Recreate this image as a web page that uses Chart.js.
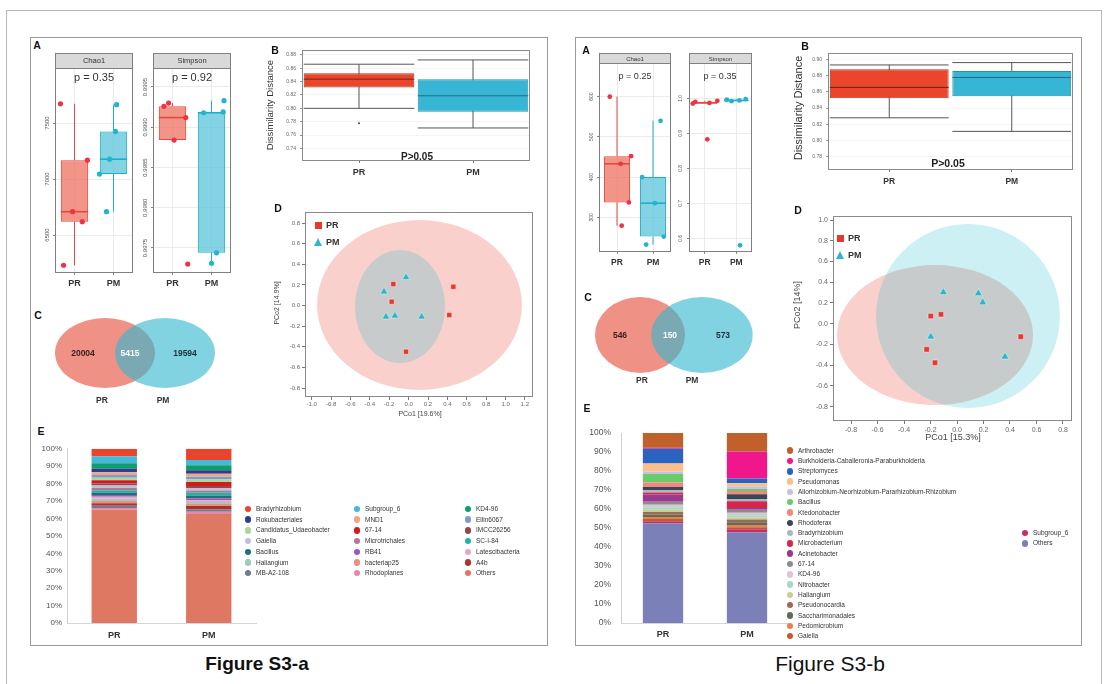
<!DOCTYPE html>
<html>
<head>
<meta charset="utf-8">
<script src="https://cdn.jsdelivr.net/npm/chart.js@4.4.1/dist/chart.umd.min.js"></script>
<style>
  body { margin: 0; background: #fff; font-family: "Liberation Sans", Arial, sans-serif; }
  #page { position: relative; width: 1107px; height: 684px; overflow: hidden; background: #fff; }
  canvas { position: absolute; }
</style>
</head>
<body>
<div id="page"></div>
<script>
// ================= data =================
const GROUPS = ['PR', 'PM'];

// Figure S3-a : alpha diversity, five samples per group
const chao1A_PR = [7672, 7168, 6708, 6619, 6230];
const chao1A_PM = [7664, 7425, 7177, 7044, 6708];
const simpsonA_PR = [0.99930, 0.99926, 0.99912, 0.99884, 0.99730];
const simpsonA_PM = [0.99933, 0.99919, 0.99918, 0.99744, 0.99731];
const chao1A_ticks = [6500, 7000, 7500];
const simpsonA_ticks = [0.9975, 0.9980, 0.9985, 0.9990, 0.9995];
const alphaA_p = ['p = 0.35', 'p = 0.92'];

// Figure S3-b : alpha diversity
const chao1B_PR = [600, 452, 433, 337, 279];
const chao1B_PM = [540, 400, 335, 252, 232];
const simpsonB_PR = [0.993, 0.990, 0.987, 0.985, 0.883];
const simpsonB_PM = [0.998, 0.996, 0.994, 0.992, 0.580];
const chao1B_ticks = [300, 400, 500, 600];
const simpsonB_ticks = [0.6, 0.7, 0.8, 0.9, 1.0];
const alphaB_p = ['p = 0.25', 'p = 0.35'];

// horizontal jitter of the sample dots (in group units)
const jitChao1A = [[-0.36, 0.33, -0.05, 0.20, -0.28], [0.08, 0.05, -0.10, -0.36, -0.18]];
const jitSimpsonA = [[-0.10, -0.22, 0.34, 0.04, 0.39], [0.32, 0.30, -0.20, 0.13, 0.00]];
const jitChao1B = [[-0.20, 0.39, 0.10, 0.33, 0.13], [0.21, -0.30, 0.05, 0.30, -0.19]];
const jitSimpsonB = [[0.40, -0.30, 0.15, -0.38, 0.08], [0.30, -0.30, 0.10, -0.15, 0.12]];

// Dissimilarity distance : [lower whisker, Q1, median, Q3, upper whisker]
const distA_PR = [0.8000, 0.8312, 0.8437, 0.8527, 0.8661];
const distA_PM = [0.7706, 0.7950, 0.8188, 0.8437, 0.8725];
const distA_out = [[0.7775], []];
const distA_ticks = [0.74, 0.76, 0.78, 0.80, 0.82, 0.84, 0.86, 0.88];
const distB_PR = [0.8280, 0.8520, 0.8654, 0.8878, 0.8930];
const distB_PM = [0.8113, 0.8544, 0.8776, 0.8857, 0.8959];
const distB_out = [[], []];
const distB_ticks = [0.78, 0.80, 0.82, 0.84, 0.86, 0.88, 0.90];

// Venn counts : [PR only, shared, PM only]
const vennA = [20004, 5415, 19594];
const vennB = [546, 150, 573];

// PCoA coordinates [PCo1, PCo2]
const pcoaA_PR = [[-0.158, 0.208], [-0.175, 0.037], [0.461, 0.182], [0.419, -0.092], [-0.027, -0.448]];
const pcoaA_PM = [[-0.027, 0.273], [-0.254, 0.134], [-0.234, -0.109], [-0.141, -0.099], [0.134, -0.109]];
const pcoaB_PR = [[-0.198, 0.074], [-0.121, 0.091], [-0.229, -0.247], [-0.166, -0.376], [0.481, -0.125]];
const pcoaB_PM = [[-0.103, 0.303], [0.161, 0.293], [0.194, 0.206], [-0.198, -0.125], [0.362, -0.318]];
const pcoaA_xticks = [-1.0, -0.8, -0.6, -0.4, -0.2, 0, 0.2, 0.4, 0.6, 0.8, 1.0, 1.2];
const pcoaA_yticks = [-0.8, -0.6, -0.4, -0.2, 0, 0.2, 0.4, 0.6, 0.8];
const pcoaB_xticks = [-0.8, -0.6, -0.4, -0.2, 0, 0.2, 0.4, 0.6, 0.8];
const pcoaB_yticks = [-0.8, -0.6, -0.4, -0.2, 0, 0.2, 0.4, 0.6, 0.8, 1.0];
// confidence ellipses [centre PCo1, centre PCo2, radius PCo1, radius PCo2]
const ellA_PR = [0.112, 0.005, 1.057, 0.824];
const ellA_PM = [-0.089, -0.010, 0.464, 0.548];
const ellB_PR = [-0.166, -0.109, 0.740, 0.675];
const ellB_PM = [0.083, 0.074, 0.694, 0.887];

// Relative abundance (%), listed from the top of each bar downwards
const taxaA = ['Bradyrhizobium', 'Subgroup_6', 'KD4-96', 'Rokubacteriales', 'MND1', 'Ellin6067',
  'Candidatus_Udaeobacter', '67-14', 'IMCC26256', 'Gaiella', 'Microtrichales', 'SC-I-84', 'Bacillus',
  'RB41', 'Latescibacteria', 'Haliangium', 'bacteriap25', 'A4b', 'MB-A2-108', 'Rhodoplanes', 'Others'];
const taxaA_PR = [4.3, 4.0, 3.0, 2.2, 1.6, 1.5, 1.5, 1.8, 1.2, 1.4, 1.3, 1.3, 1.4, 1.0, 1.2, 1.3, 1.2, 1.5, 1.3, 1.0, 65.0];
const taxaA_PM = [6.5, 3.0, 2.8, 2.0, 1.7, 1.6, 1.4, 2.3, 1.2, 1.5, 1.3, 1.5, 1.6, 1.1, 1.0, 1.2, 1.2, 1.9, 1.4, 1.2, 62.6];
const taxaB = ['Arthrobacter', 'Burkholderia-Caballeronia-Paraburkholderia', 'Streptomyces', 'Pseudomonas',
  'Allorhizobium-Neorhizobium-Pararhizobium-Rhizobium', 'Bacillus', 'Ktedonobacter', 'Rhodoferax',
  'Bradyrhizobium', 'Microbacterium', 'Acinetobacter', '67-14', 'KD4-96', 'Nitrobacter', 'Haliangium',
  'Pseudonocardia', 'Saccharimonadales', 'Pedomicrobium', 'Gaiella', 'Subgroup_6', 'Others'];
const taxaB_PR = [7.7, 0.5, 7.8, 4.2, 1.4, 4.4, 2.4, 1.5, 1.4, 1.0, 3.8, 1.6, 1.4, 1.3, 1.2, 1.2, 1.4, 1.0, 1.2, 1.1, 52.5];
const taxaB_PM = [9.7, 14.2, 2.5, 1.6, 1.5, 1.0, 1.7, 2.5, 1.2, 3.5, 1.0, 1.5, 1.3, 1.2, 1.1, 1.5, 1.4, 1.2, 1.0, 1.7, 47.7];
const pctTicks = [0, 10, 20, 30, 40, 50, 60, 70, 80, 90, 100];

// ================= styles =================
const colorsA = ['#E8452C', '#46B8DA', '#0E9E6E', '#2C3E8C', '#F4A582', '#7C9CCB', '#A8D8A0', '#D7191C',
  '#8C4A4A', '#C4BEDD', '#B07A94', '#1FB5A2', '#1F6F78', '#9B59B6', '#E7A6C8', '#A3C9BE', '#E8907A',
  '#B03030', '#6D7B8D', '#E888A8', '#DF7862'];
const colorsB = ['#C0602A', '#F0168C', '#2A64C0', '#FDBF8A', '#C7C0DF', '#6ACB6A', '#F2877F', '#3A4656',
  '#A9B7C6', '#D6264B', '#9A3A8F', '#8C8C8C', '#DCC6D6', '#A6D9C4', '#C9CF8F', '#9C6A55', '#5D6E55',
  '#E9814E', '#C25A2E', '#C42E69', '#7C80B8'];

const FONT = '"Liberation Sans", Arial, sans-serif';
Chart.defaults.font.family = FONT;
Chart.defaults.color = '#555';
Chart.defaults.plugins.legend.display = false;
Chart.defaults.plugins.tooltip.enabled = false;

const page = document.getElementById('page');
const mctx = document.createElement('canvas').getContext('2d');
function textW(s, size) { mctx.font = size + 'px ' + FONT; return mctx.measureText(s).width; }

function mk(tag, css) { const d = document.createElement(tag); Object.assign(d.style, css); page.appendChild(d); return d; }
function label(s, x, y, size, o = {}) {
  const d = mk('div', {
    position: 'absolute', left: x + 'px', top: y + 'px', fontSize: size + 'px',
    fontWeight: o.bold ? 'bold' : 'normal', color: o.color || '#222', whiteSpace: 'nowrap',
    lineHeight: '1', zIndex: 5,
    transform: 'translate(' + (o.left ? '0' : '-50%') + ',-50%)' + (o.rot ? ' rotate(' + o.rot + 'deg)' : '')
  });
  d.textContent = s;
  return d;
}
function rect(l, t, w, h, css) {
  return mk('div', Object.assign({ position: 'absolute', left: l + 'px', top: t + 'px', width: w + 'px', height: h + 'px', boxSizing: 'border-box' }, css));
}

// panel frame around the plotting area
Chart.register({
  id: 'frame',
  afterDraw(chart, args, o) {
    if (!o || !o.color) return;
    const a = chart.chartArea, ctx = chart.ctx;
    ctx.save(); ctx.strokeStyle = o.color; ctx.lineWidth = 1;
    ctx.strokeRect(Math.round(a.left) + 0.5, Math.round(a.top) + 0.5, Math.round(a.width) - 1, Math.round(a.height) - 1);
    ctx.restore();
  }
});
// filled ellipses placed through the chart scales
Chart.register({
  id: 'ellipses',
  beforeDatasetsDraw(chart, args, o) {
    if (!o || !o.items) return;
    const xs = chart.scales.x, ys = chart.scales.y, ctx = chart.ctx, a = chart.chartArea;
    ctx.save();
    if (!o.noClip) { ctx.beginPath(); ctx.rect(a.left, a.top, a.width, a.height); ctx.clip(); }
    for (let i = 0; i < o.items.length; i++) {
      const e = o.items[i];
      const cx = xs.getPixelForValue(e.cx), cy = ys.getPixelForValue(e.cy);
      const rx = Math.abs(xs.getPixelForValue(e.cx + e.rx) - cx);
      const ry = Math.abs(ys.getPixelForValue(e.cy + e.ry) - cy);
      ctx.beginPath(); ctx.ellipse(cx, cy, rx, ry, 0, 0, Math.PI * 2);
      ctx.fillStyle = e.fill; ctx.fill();
    }
    ctx.restore();
  }
});

// place a chart so that its plotting area covers the rectangle `plot`
function mount(plot, yW, xH, pad, config) {
  const w = plot.r - plot.l + yW + pad * 2, h = plot.b - plot.t + xH + pad * 2;
  const c = document.createElement('canvas');
  c.width = w; c.height = h;
  c.style.left = (plot.l - yW - pad) + 'px'; c.style.top = (plot.t - pad) + 'px';
  c.style.width = w + 'px'; c.style.height = h + 'px';
  page.appendChild(c);
  const op = config.options;
  op.responsive = false; op.animation = false; op.devicePixelRatio = 1;
  op.layout = { padding: pad };
  op.scales.x.afterFit = s => { s.height = xH; };
  op.scales.y.afterFit = s => { s.width = yW; };
  return new Chart(c, config);
}

function boxStats(v) {
  const s = [...v].sort((a, b) => a - b);
  const q = p => { const h = (s.length - 1) * p, lo = Math.floor(h), hi = Math.min(lo + 1, s.length - 1); return s[lo] + (h - lo) * (s[hi] - s[lo]); };
  const q1 = q(0.25), med = q(0.5), q3 = q(0.75), iqr = q3 - q1;
  const inside = s.filter(x => x >= q1 - 1.5 * iqr && x <= q3 + 1.5 * iqr);
  return { lo: inside[0], q1, med, q3, hi: inside[inside.length - 1] };
}

const PR_LINE = '#E5483E', PM_LINE = '#1EAFC6';
const PR_FILL = 'rgba(240,118,104,0.78)', PM_FILL = 'rgba(96,198,220,0.78)';
const PR_DOT = '#EE3344', PM_DOT = '#22B4CC';

// one facet of the alpha-diversity box plots
function facet(plot, vals, jit, ticks, ymin, ymax, fmt, st) {
  const BW = st.bw;
  const stats = vals.map(boxStats);
  const lines = [PR_LINE, PM_LINE];
  const ds = [];
  stats.forEach((s, i) => ds.push({
    type: 'line', order: 4, borderColor: lines[i], borderWidth: 1, pointRadius: 0, spanGaps: false, fill: false,
    data: [{ x: i + 1, y: s.lo }, { x: i + 1, y: s.q1 }, { x: i + 1, y: null }, { x: i + 1, y: s.q3 }, { x: i + 1, y: s.hi }]
  }));
  ds.push({
    type: 'bar', order: 3, data: stats.map((s, i) => ({ x: i + 1, y: [s.q1, s.q3] })),
    backgroundColor: [PR_FILL, PM_FILL], borderColor: lines, borderWidth: 1, borderSkipped: false,
    categoryPercentage: 1, barPercentage: BW
  });
  stats.forEach((s, i) => ds.push({
    type: 'line', order: 2, borderColor: lines[i], borderWidth: 1.6, pointRadius: 0, fill: false,
    data: [{ x: i + 1 - BW / 2, y: s.med }, { x: i + 1 + BW / 2, y: s.med }]
  }));
  vals.forEach((v, i) => ds.push({
    type: 'scatter', order: 1, backgroundColor: [PR_DOT, PM_DOT][i], borderWidth: 0, pointRadius: st.r,
    data: v.map((y, j) => ({ x: i + 1 + jit[i][j], y }))
  }));
  const widest = Math.max(...ticks.map(v => textW(fmt(v), st.ts)));
  const grid = { color: '#e6e6e6', lineWidth: 0.8, tickLength: 2, tickColor: '#666', offset: false };
  return mount(plot, 16, 16, 6, {
    type: 'scatter',
    data: { datasets: ds },
    options: {
      scales: {
        x: {
          type: 'linear', min: 0.5, max: 2.5, offset: false,
          afterBuildTicks: s => { s.ticks = GROUPS.map((g, i) => ({ value: i + 1 })); },
          ticks: { callback: v => GROUPS[v - 1], font: { size: st.xs, weight: 'bold' }, color: '#333', padding: st.xPad, maxRotation: 0, autoSkip: false },
          grid, border: { display: false }
        },
        y: {
          type: 'linear', min: ymin, max: ymax,
          afterBuildTicks: s => { s.ticks = ticks.map(v => ({ value: v })); },
          ticks: { callback: v => fmt(v), font: { size: st.ts }, color: '#555', minRotation: 90, maxRotation: 90, crossAlign: 'center', padding: st.gap - 2 - widest / 2, autoSkip: false },
          grid, border: { display: false }
        }
      },
      plugins: { frame: { color: '#808080' } }
    }
  });
}

// dissimilarity box plot with whisker caps
function distBox(plot, stats, outs, ticks, ymin, ymax, st) {
  const BW = 0.97;
  const ds = [];
  stats.forEach((s, i) => {
    const [lo, , med, , hi] = s;
    ds.push({ type: 'line', order: 5, borderColor: '#555', borderWidth: 1, pointRadius: 0, data: [{ x: i + 1, y: lo }, { x: i + 1, y: hi }] });
    ds.push({ type: 'line', order: 4, borderColor: '#555', borderWidth: 1, pointRadius: 0, spanGaps: false,
      data: [{ x: i + 1 - BW / 2, y: lo }, { x: i + 1 + BW / 2, y: lo }, { x: i + 1, y: null }, { x: i + 1 - BW / 2, y: hi }, { x: i + 1 + BW / 2, y: hi }] });
    ds.push({ type: 'line', order: 2, borderColor: st.med[i], borderWidth: 1, pointRadius: 0, data: [{ x: i + 1 - BW / 2, y: med }, { x: i + 1 + BW / 2, y: med }] });
  });
  ds.push({ type: 'bar', order: 3, data: stats.map((s, i) => ({ x: i + 1, y: [s[1], s[3]] })),
    backgroundColor: ['#E9462B', '#36B5D5'], borderColor: ['#B7361F', '#2191AD'], borderWidth: 1, borderSkipped: false,
    categoryPercentage: 1, barPercentage: BW });
  ds.push({ type: 'scatter', order: 1, backgroundColor: '#444', borderWidth: 0, pointRadius: 1,
    data: outs.flatMap((o, i) => o.map(y => ({ x: i + 1, y }))) });
  return mount(plot, 30, 20, 6, {
    type: 'scatter',
    data: { datasets: ds },
    options: {
      scales: {
        x: {
          type: 'linear', min: 0.5, max: 2.5, offset: false,
          afterBuildTicks: s => { s.ticks = GROUPS.map((g, i) => ({ value: i + 1 })); },
          ticks: { callback: v => GROUPS[v - 1], font: { size: st.xs, weight: 'bold' }, color: '#333', padding: st.xPad, maxRotation: 0, autoSkip: false },
          grid: { display: true, drawOnChartArea: false, tickLength: 2, tickColor: '#777', offset: false }, border: { display: false }
        },
        y: {
          type: 'linear', min: ymin, max: ymax,
          afterBuildTicks: s => { s.ticks = ticks.map(v => ({ value: v })); },
          ticks: { callback: v => v.toFixed(2), font: { size: st.ts }, color: '#666', padding: st.yPad, autoSkip: false },
          grid: { color: '#f1f1f1', lineWidth: 0.8, tickLength: 2, tickColor: '#777' }, border: { display: false }
        }
      },
      plugins: { frame: { color: '#8a8a8a' } }
    }
  });
}

function ell(e, fill) { return { cx: e[0], cy: e[1], rx: e[2], ry: e[3], fill }; }

function pcoa(plot, pr, pm, ells, xr, yr, xt, yt, st) {
  return mount(plot, 24, 18, 8, {
    type: 'scatter',
    data: {
      datasets: [
        { data: pr.map(p => ({ x: p[0], y: p[1] })), pointStyle: 'rect', pointRadius: st.r, backgroundColor: '#E8372F', borderColor: 'rgba(255,255,255,0.7)', borderWidth: 0.6 },
        { data: pm.map(p => ({ x: p[0], y: p[1] })), pointStyle: 'triangle', pointRadius: st.r + 0.8, backgroundColor: '#2FB5CC', borderColor: 'rgba(255,255,255,0.7)', borderWidth: 0.6 }
      ]
    },
    options: {
      scales: {
        x: {
          type: 'linear', min: xr[0], max: xr[1],
          afterBuildTicks: s => { s.ticks = xt.map(v => ({ value: v })); },
          ticks: { callback: v => v.toFixed(1), font: { size: st.fs }, color: '#666', padding: st.xPad, maxRotation: 0, autoSkip: false },
          grid: { drawOnChartArea: false, tickLength: 3, tickColor: '#777' }, border: { display: false }
        },
        y: {
          type: 'linear', min: yr[0], max: yr[1],
          afterBuildTicks: s => { s.ticks = yt.map(v => ({ value: v })); },
          ticks: { callback: v => v.toFixed(1), font: { size: st.fs }, color: '#666', padding: st.yPad, autoSkip: false },
          grid: { drawOnChartArea: false, tickLength: 3, tickColor: '#777' }, border: { display: false }
        }
      },
      plugins: { frame: { color: '#8a8a8a' }, ellipses: { items: ells } }
    }
  });
}

function venn(plot, items) {
  return mount(plot, 0, 0, 0, {
    type: 'scatter',
    data: { datasets: [] },
    options: {
      scales: {
        x: { type: 'linear', min: 0, max: plot.r - plot.l, display: false },
        y: { type: 'linear', min: 0, max: plot.b - plot.t, display: false }
      },
      plugins: { ellipses: { items, noClip: true } }
    }
  });
}

function stack(plot, names, cols, pr, pm, st) {
  const ds = [];
  for (let k = names.length - 1; k >= 0; k--) {
    ds.push({ label: names[k], data: [pr[k], pm[k]], backgroundColor: cols[k], borderWidth: 0, categoryPercentage: 1, barPercentage: st.bw });
  }
  return mount(plot, 40, 22, 6, {
    type: 'bar',
    data: { labels: GROUPS, datasets: ds },
    options: {
      scales: {
        x: { stacked: true, grid: { display: false, drawTicks: false }, border: { display: true, color: '#d6d6d6' },
          ticks: { font: { size: st.xs, weight: 'bold' }, color: '#333', padding: st.xPad } },
        y: { stacked: true, min: 0, max: 100,
          afterBuildTicks: s => { s.ticks = pctTicks.map(v => ({ value: v })); },
          ticks: { callback: v => v + '%', font: { size: st.ys }, color: '#555', padding: st.yPad, autoSkip: false },
          grid: { display: false, drawTicks: false }, border: { display: true, color: '#d0d0d0' } }
      }
    }
  });
}

// ================= frames =================
rect(6, 10, 1096, 700, { border: '1px solid #b8b8b8' });
rect(30, 37, 518, 609, { border: '1px solid #9a9a9a' });
rect(575, 37, 507, 609, { border: '1px solid #9a9a9a' });

// ================= Figure S3-a =================
const fmt0 = v => String(v), fmt4 = v => v.toFixed(4), fmt1 = v => v.toFixed(1);
facet({ l: 55, t: 68, r: 133, b: 273 }, [chao1A_PR, chao1A_PM], jitChao1A, chao1A_ticks, 6161, 7991, fmt0,
  { bw: 0.7, r: 2.6, ts: 6, xs: 9, xPad: 3.5, gap: 8 });
facet({ l: 153, t: 68, r: 231, b: 273 }, [simpsonA_PR, simpsonA_PM], jitSimpsonA, simpsonA_ticks, 0.997189, 0.999736, fmt4,
  { bw: 0.7, r: 2.6, ts: 6, xs: 9, xPad: 3.5, gap: 8 });
distBox({ l: 302, t: 49, r: 530, b: 161 }, [distA_PR, distA_PM], distA_out, distA_ticks, 0.7211, 0.8874,
  { med: ['#7A2416', '#1D6E82'], ts: 5, xs: 9, xPad: 4, yPad: 4 });
venn({ l: 45, t: 313, r: 225, b: 393 }, [
  { cx: 60, cy: 40, rx: 50, ry: 35, fill: 'rgba(232,88,72,0.66)' },
  { cx: 120, cy: 40, rx: 50, ry: 35, fill: 'rgba(52,184,208,0.62)' }
]);
pcoa({ l: 305, t: 212, r: 533, b: 397 }, pcoaA_PR, pcoaA_PM,
  [ell(ellA_PR, 'rgba(240,110,100,0.32)'), ell(ellA_PM, 'rgba(0,180,200,0.2)')],
  [-1.069, 1.283], [-0.887, 0.907], pcoaA_xticks, pcoaA_yticks, { r: 3.6, fs: 6, xPad: 1, yPad: 2 });
stack({ l: 67, t: 445, r: 256, b: 623 }, taxaA, colorsA, taxaA_PR, taxaA_PM, { bw: 0.48, xs: 9, ys: 8, xPad: 7, yPad: 5 });

// ================= Figure S3-b =================
facet({ l: 599, t: 63, r: 671, b: 252 }, [chao1B_PR, chao1B_PM], jitChao1B, chao1B_ticks, 213.6, 683.8, fmt0,
  { bw: 0.72, r: 2.4, ts: 5, xs: 8.5, xPad: 3.5, gap: 7.6 });
facet({ l: 689, t: 63, r: 752, b: 252 }, [simpsonB_PR, simpsonB_PM], jitSimpsonB, simpsonB_ticks, 0.561, 1.101, fmt1,
  { bw: 0.78, r: 2.4, ts: 5, xs: 8.5, xPad: 3.5, gap: 8.3 });
distBox({ l: 828, t: 52, r: 1073, b: 170 }, [distB_PR, distB_PM], distB_out, distB_ticks, 0.7638, 0.9077,
  { med: ['#6E1F12', '#1D6E82'], ts: 5, xs: 8.5, xPad: 5, yPad: 4 });
venn({ l: 590, t: 293, r: 760, b: 377 }, [
  { cx: 50, cy: 42, rx: 45, ry: 38, fill: 'rgba(232,88,72,0.66)' },
  { cx: 112, cy: 42, rx: 50.7, ry: 38, fill: 'rgba(52,184,208,0.62)' }
]);
pcoa({ l: 833, t: 216, r: 1072, b: 421 }, pcoaB_PR, pcoaB_PM,
  [ell(ellB_PR, 'rgba(240,110,100,0.32)'), ell(ellB_PM, 'rgba(0,180,200,0.2)')],
  [-0.936, 0.868], [-0.938, 1.039], pcoaB_xticks, pcoaB_yticks, { r: 3.8, fs: 7, xPad: 2, yPad: 2 });
stack({ l: 621, t: 424, r: 789, b: 623 }, taxaB, colorsB, taxaB_PR, taxaB_PM, { bw: 0.48, xs: 9, ys: 8.5, xPad: 6, yPad: 10 });

// ================= text =================
// facet strips
function strip(l, t, w, h, s, size) {
  rect(l, t, w, h, { background: '#d9d9d9', border: '1px solid #808080', zIndex: 4 });
  label(s, l + w / 2, t + h / 2, size, { color: '#333' });
}
strip(55, 53, 78, 16, 'Chao1', 7.5);
strip(153, 53, 78, 16, 'Simpson', 7.5);
strip(599, 53, 72, 11, 'Chao1', 6);
strip(689, 53, 63, 11, 'Simpson', 6);
label(alphaA_p[0], 94, 77, 11, { color: '#333' });
label(alphaA_p[1], 192, 77, 11, { color: '#333' });
label(alphaB_p[0], 635, 76, 9, { color: '#333' });
label(alphaB_p[1], 720, 76, 9, { color: '#333' });

// panel letters
[['A', 37, 45], ['B', 275, 50], ['C', 38, 315], ['D', 278, 208], ['E', 41, 431],
 ['A', 586, 50], ['B', 805, 46], ['C', 588, 297], ['D', 798, 210], ['E', 587, 408]]
  .forEach(p => label(p[0], p[1], p[2], 10.5, { bold: true, color: '#111' }));

// dissimilarity panels
label('Dissimilarity Distance', 270, 105, 9.5, { rot: -90, color: '#333' });
label('P>0.05', 417, 157, 10, { bold: true, color: '#222' });
label('Dissimilarity Distance', 798, 108, 11, { rot: -90, color: '#333' });
label('P>0.05', 948, 163, 10.5, { bold: true, color: '#222' });

// Venn numbers and set names
label(String(vennA[0]), 83, 353, 8.5, { bold: true, color: '#3a1d1d' });
label(String(vennA[1]), 130, 353, 8.5, { bold: true, color: '#ffffff' });
label(String(vennA[2]), 185, 353, 8.5, { bold: true, color: '#1b2f3a' });
label('PR', 102, 400, 8.5, { bold: true, color: '#333' });
label('PM', 163, 400, 8.5, { bold: true, color: '#333' });
label(String(vennB[0]), 620, 335, 8.5, { bold: true, color: '#3a1d1d' });
label(String(vennB[1]), 670, 335, 8.5, { bold: true, color: '#ffffff' });
label(String(vennB[2]), 723, 335, 8.5, { bold: true, color: '#1b2f3a' });
label('PR', 642, 380, 8.5, { bold: true, color: '#333' });
label('PM', 692, 380, 8.5, { bold: true, color: '#333' });

// PCoA axis titles and legends
label('PCo1 [19.6%]', 420, 413, 7, { color: '#444' });
label('PCo2 [14.9%]', 276, 303, 7, { rot: -90, color: '#444' });
label('PCo1 [15.3%]', 953, 437, 9, { color: '#444' });
label('PCo2 [14%]', 797, 305, 9, { rot: -90, color: '#444' });
function pcoaKey(x, y, size) {
  rect(x - 3.5, y - 3.5, 7, 7, { background: '#E8372F', zIndex: 5 });
  label('PR', x + 8, y, size, { bold: true, left: true, color: '#333' });
  mk('div', { position: 'absolute', left: (x - 4.5) + 'px', top: (y + 13) + 'px', width: 0, height: 0,
    borderLeft: '4.5px solid transparent', borderRight: '4.5px solid transparent', borderBottom: '8px solid #2FB5CC', zIndex: 5 });
  label('PM', x + 8, y + 17, size, { bold: true, left: true, color: '#333' });
}
pcoaKey(318, 225, 9);
pcoaKey(840, 238, 9);

// abundance legends
function dot(x, y, c) {
  rect(x - 3.3, y - 3.3, 6.6, 6.6, { background: c, borderRadius: '50%', zIndex: 5 });
}
taxaA.forEach((n, k) => {
  const col = k % 3, row = Math.floor(k / 3);
  const mx = [248, 357, 468][col], y = 509 + row * 10.7;
  dot(mx, y, colorsA[k]);
  label(n, mx + 8, y, 6.5, { left: true, color: '#333' });
});
taxaB.forEach((n, k) => {
  const col = k < 19 ? 0 : 1, row = k < 19 ? k : k - 19 + 8;
  const mx = [790, 1025][col], y = 450.7 + row * 10.3;
  dot(mx, y, colorsB[k]);
  label(n, mx + 8, y, 6.5, { left: true, color: '#333' });
});

// figure captions
label('Figure S3-a', 257, 663, 19, { bold: true, color: '#111' });
label('Figure S3-b', 830, 663, 21, { color: '#111' });
</script>
</body>
</html>
